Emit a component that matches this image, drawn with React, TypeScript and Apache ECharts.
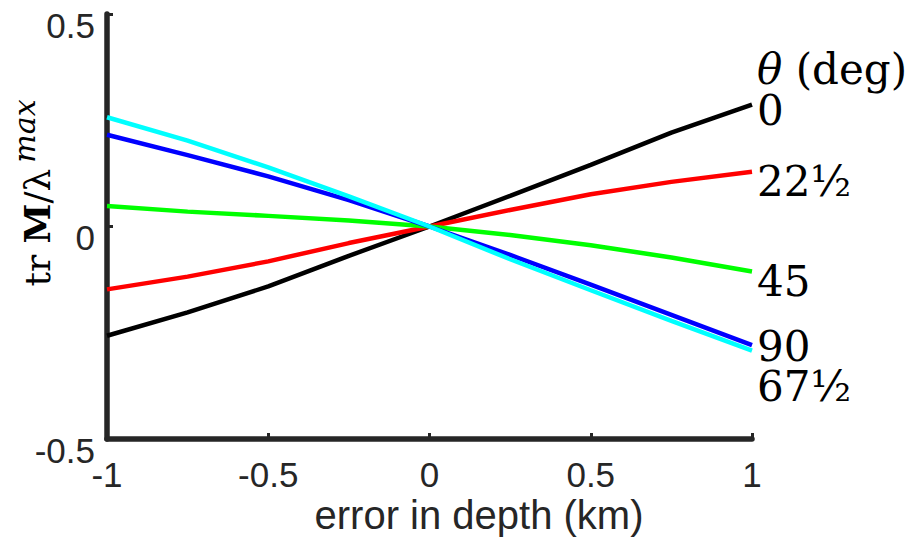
import React, { useEffect, useRef } from "react";
import * as echarts from "echarts";

const depth = [-1, -0.75, -0.5, -0.25, 0, 0.25, 0.5, 0.75, 1];
const theta0 = [-0.257, -0.202, -0.141, -0.069, 0, 0.072, 0.145, 0.221, 0.287];
const theta22 = [-0.148, -0.118, -0.082, -0.039, 0, 0.039, 0.076, 0.105, 0.129];
const theta45 = [0.048, 0.035, 0.025, 0.014, 0, -0.02, -0.044, -0.073, -0.106];
const theta90 = [0.216, 0.168, 0.118, 0.062, 0, -0.067, -0.137, -0.208, -0.279];
const theta67 = [0.257, 0.202, 0.139, 0.071, 0, -0.077, -0.15, -0.222, -0.292];

const seriesNames = ["0", "22½", "45", "90", "67½"];
const seriesColors = ["#000000", "#ff0000", "#00ff00", "#0000ff", "#00ffff"];
const seriesValues = [theta0, theta22, theta45, theta90, theta67];

const legendLabels = ["0", "22½", "45", "90", "67½"];
const legendLabelY = [110, 181, 281, 346, 386];

const xTitle = "error in depth (km)";

export default function App() {
  const ref = useRef<HTMLDivElement>(null);
  useEffect(() => {
    if (!ref.current) return;
    const chart = echarts.init(ref.current, undefined, { renderer: "svg" });
    const axisColor = "#262626";
    const labelFont = {
      fontFamily: "Liberation Sans",
      fontSize: 35,
      color: axisColor,
    };
    const serif = "DejaVu Serif";
    chart.setOption({
      animation: false,
      backgroundColor: "#ffffff",
      grid: {
        left: 107,
        right: 160,
        top: 14,
        bottom: 98,
        containLabel: false,
        outerBoundsMode: "none",
      },
      xAxis: {
        type: "value",
        min: -1,
        max: 1,
        interval: 0.5,
        axisLine: { show: true, onZero: false, lineStyle: { color: axisColor, width: 5.5 } },
        axisTick: { show: true, inside: true, length: 6, lineStyle: { color: axisColor, width: 3 } },
        splitLine: { show: false },
        axisLabel: { ...labelFont, margin: 18 },
      },
      yAxis: {
        type: "value",
        min: -0.5,
        max: 0.5,
        interval: 0.5,
        axisLine: { show: true, onZero: false, lineStyle: { color: axisColor, width: 5.5 } },
        axisTick: { show: true, inside: true, length: 6, lineStyle: { color: axisColor, width: 3 } },
        splitLine: { show: false },
        axisLabel: { ...labelFont, margin: 12, verticalAlign: "top", lineHeight: 22 },
      },
      series: seriesValues.map((vals, i) => ({
        name: seriesNames[i],
        type: "line",
        data: depth.map((d, j) => [d, vals[j]]),
        showSymbol: false,
        symbol: "none",
        lineStyle: { color: seriesColors[i], width: 4.5 },
        itemStyle: { color: seriesColors[i] },
        z: 2 + i,
      })),
      graphic: [
        {
          type: "text",
          x: 757,
          y: 69,
          style: {
            text: "{i|θ}{n| (deg)}",
            textAlign: "left",
            textVerticalAlign: "middle",
            fill: "#000",
            rich: {
              i: { fontFamily: serif, fontSize: 42, fontStyle: "italic", fill: "#000", color: "#000" },
              n: { fontFamily: serif, fontSize: 42, fill: "#000", color: "#000" },
            },
          },
        },
        ...legendLabels.map((t, i) => ({
          type: "text",
          x: 757,
          y: legendLabelY[i],
          style: {
            text: t,
            fontFamily: serif,
            fontSize: 42,
            fill: "#000",
            textAlign: "left",
            textVerticalAlign: "middle",
          },
        })),
        {
          type: "text",
          x: 479,
          y: 515,
          style: {
            text: xTitle,
            fontFamily: "Liberation Sans",
            fontSize: 40,
            fill: axisColor,
            textAlign: "center",
            textVerticalAlign: "middle",
          },
        },
        {
          type: "text",
          x: 37,
          y: 193,
          rotation: Math.PI / 2,
          style: {
            text: "{n|tr }{b|M}{n|/λ}{s|max}",
            textAlign: "center",
            textVerticalAlign: "middle",
            fill: "#000",
            rich: {
              n: { fontFamily: serif, fontSize: 36, lineHeight: 56, fill: "#000", color: "#000" },
              b: { fontFamily: serif, fontSize: 36, fontWeight: "bold", lineHeight: 56, fill: "#000", color: "#000" },
              s: {
                fontFamily: serif,
                fontSize: 30,
                fontStyle: "italic",
                lineHeight: 24,
                verticalAlign: "top",
                padding: [0, 0, 0, 6],
                fill: "#000",
                color: "#000",
              },
            },
          },
        },
      ],
    });
    return () => chart.dispose();
  }, []);
  return <div ref={ref} style={{ width: 912, height: 537, position: "absolute", left: 0, top: 0 }} />;
}
